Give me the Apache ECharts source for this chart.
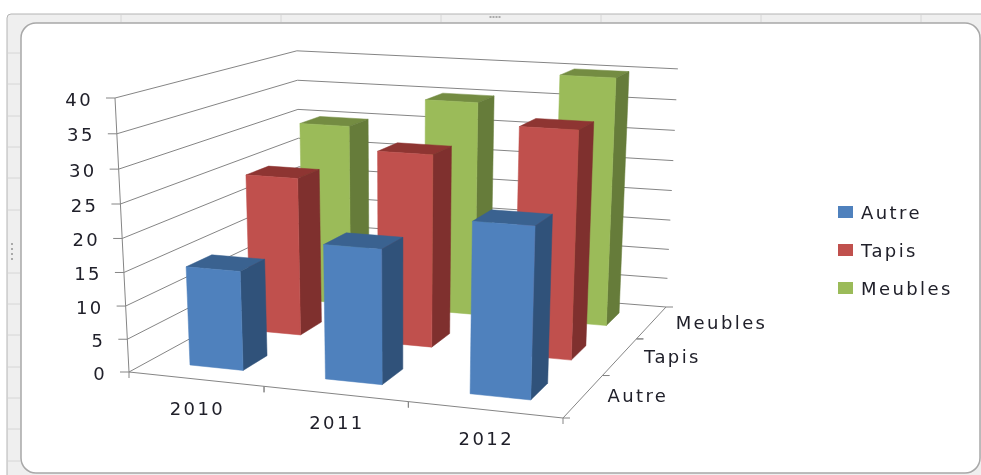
<!DOCTYPE html>
<html><head><meta charset="utf-8">
<style>html,body{margin:0;padding:0;background:#fff}#main{width:981px;height:475px}#main text{letter-spacing:2.4px}#main svg{filter:blur(0.4px)}</style>
<script src="https://cdn.jsdelivr.net/npm/echarts@6/dist/echarts.min.js"></script>
</head><body><div id="main"></div>
<script>
const years = ['2010','2011','2012'];
const depthLabels = ['Autre','Tapis','Meubles'];
const autre = [15,20,25];
const tapis = [25,30,35];
const meubles = [30,35,40];
const yTicks = [0,5,10,15,20,25,30,35,40];
const yMax = 40;

// camera: floor corners and vertical vanishing point of the Excel 3-D view
const FL=[129,372],FR=[563,418],BR=[666,307],BL=[301,278],VP=[399,5660],TOP_FL_Y=98,SHRINK=0.032;
const barFrac=0.4,barShift=0.012;
const cam=(function(){
  const [x0,y0]=FL,[x1,y1]=FR,[x2,y2]=BR,[x3,y3]=BL;
  const dx1=x1-x2,dx2=x3-x2,sx=x0-x1+x2-x3,dy1=y1-y2,dy2=y3-y2,sy=y0-y1+y2-y3;
  const den=dx1*dy2-dx2*dy1,g=(sx*dy2-dx2*sy)/den,h=(dx1*sy-sx*dy1)/den;
  const k=(TOP_FL_Y-y0)/(VP[1]-TOP_FL_Y);
  return {a:x1-x0+g*x1,b:x3-x0+h*x3,c:x0,d:y1-y0+g*y1,e:y3-y0+h*y3,f:y0,g,h,k};
})();
function proj(u,v,t){ // u,v in 0..3, t in 0..1
  const s=u/3,r=v/3,c=cam,tk=t*c.k*(1-SHRINK*s);
  const w=c.g*s+c.h*r+1+tk;
  return [(c.a*s+c.b*r+c.c+tk*VP[0])/w,(c.d*s+c.e*r+c.f+tk*VP[1])/w];
}
function frac(params,api,val){
  const cs=params.coordSys;
  return (cs.y+cs.height-api.coord([0,val])[1])/cs.height;
}
function band(params,api,i){
  const cs=params.coordSys;
  return (api.coord([i,0])[0]-cs.x)/(cs.width/years.length);
}
const FONT='18px "DejaVu Sans"',TXT='#20202a',AX='#858585';
function line(a,b,w){return {type:'line',shape:{x1:a[0],y1:a[1],x2:b[0],y2:b[1]},style:{stroke:AX,lineWidth:w||1,fill:null}};}
function text(s,x,y,al){return {type:'text',style:{text:s,x,y,align:al,verticalAlign:'middle',font:FONT,fill:TXT}};}

function renderWall(params,api){
  const val=api.value(1),t=frac(params,api,val);
  const a=proj(0,0,t),b=proj(0,3,t),c=proj(3,3,t),ch=[line(a,b),line(b,c)];
  ch.push(line([a[0]-9,a[1]],a));
  ch.push(text(String(val),a[0]-22,a[1]+1,'right'));
  if(val===yTicks[yTicks.length-1]) ch.push(line(proj(0,0,0),a));
  return {type:'group',children:ch};
}
function renderFront(params,api){
  const u=band(params,api,api.value(0));
  const p=proj(u,0,0),ch=[text(years[api.value(0)],p[0]+2,p[1]+29,'center')];
  [u-0.5,u+0.5].forEach(q=>{const e=proj(q,0,0);ch.push(line(e,[e[0],e[1]+6]));});
  ch.push(line(proj(u-0.5,0,0),proj(u+0.5,0,0)));
  return {type:'group',children:ch};
}
function renderSide(params,api){
  const v=api.value(0)+0.5;
  const p=proj(3,v,0),ch=[text(depthLabels[api.value(0)],p[0]+24,p[1],'left')];
  [v-0.5,v+0.5].forEach(q=>{const e=proj(3,q,0);ch.push(line(e,[e[0]+7,e[1]]));});
  ch.push(line(proj(3,v-0.5,0),proj(3,v+0.5,0)));
  return {type:'group',children:ch};
}
function poly(pts,col){return {type:'polygon',shape:{points:pts},style:{fill:col,stroke:col,lineWidth:0.5}};}
function barRender(row,front,side,top){
  return function(params,api){
    const uc=band(params,api,api.value(0))+barShift,t=frac(params,api,api.value(1));
    const h=barFrac/2,u0=uc-h,u1=uc+h,v0=row+0.5-h,v1=row+0.5+h;
    const P=(u,v,q)=>proj(u,v,q);
    return {type:'group',children:[
      poly([P(u0,v1,t),P(u1,v1,t),P(u1,v0,t),P(u0,v0,t)],top),
      poly([P(u1,v0,0),P(u1,v1,0),P(u1,v1,t),P(u1,v0,t)],side),
      poly([P(u0,v0,0),P(u1,v0,0),P(u1,v0,t),P(u0,v0,t)],front)
    ]};
  };
}
function barSeries(name,row,vals,front,side,top){
  return {name,type:'custom',coordinateSystem:'cartesian2d',clip:false,silent:true,
    itemStyle:{color:front},encode:{x:0,y:1},
    data:vals.map((v,i)=>[i,v]),renderItem:barRender(row,front,side,top)};
}
function helper(data,fn){
  return {type:'custom',coordinateSystem:'cartesian2d',clip:false,silent:true,encode:{x:0,y:1},data,renderItem:fn};
}
// Excel sheet frame decoration
const frame=[{type:'rect',shape:{x:7,y:14,width:985,height:470,r:4},style:{fill:'#efefef',stroke:'#b4b4b4',lineWidth:1}}];
[121,281,441,601,761,921].forEach(x=>frame.push({type:'line',shape:{x1:x,y1:15,x2:x,y2:22},style:{stroke:'#d6d6d6'}}));
[53,84,116,147,178,210,273,304,335,367,398,429,461].forEach(y=>frame.push({type:'line',shape:{x1:8,y1:y,x2:20,y2:y},style:{stroke:'#d6d6d6'}}));
frame.push({type:'rect',shape:{x:21,y:23,width:959,height:450,r:15},style:{fill:'#fff',stroke:'#a8a8a8',lineWidth:1.5}});
[489,492,495,498].forEach(x=>frame.push({type:'rect',shape:{x:x+0.5,y:16,width:2,height:2},style:{fill:'#aaa'}}));
[243,248,253,258].forEach(y=>frame.push({type:'rect',shape:{x:11,y:y,width:2,height:2},style:{fill:'#aaa'}}));

const chart=echarts.init(document.getElementById('main'),null,{renderer:'svg'});
chart.setOption({
  animation:false,
  graphic:{elements:frame.map(e=>Object.assign({z:-10,silent:true},e))},
  grid:{left:0,right:0,top:0,bottom:0},
  xAxis:{type:'category',data:years,show:false},
  yAxis:{type:'value',min:0,max:yMax,interval:5,show:false},
  legend:{data:['Autre','Tapis','Meubles'],orient:'vertical',left:838,top:203,padding:0,
    icon:'rect',itemWidth:15,itemHeight:12,itemGap:20,
    textStyle:{fontFamily:'DejaVu Sans',fontSize:18,color:TXT,padding:[0,0,0,3]}},
  series:[
    helper(yTicks.map(v=>[0,v]),renderWall),
    helper(years.map((y,i)=>[i,0]),renderFront),
    helper(depthLabels.map((y,i)=>[i,0]),renderSide),
    barSeries('Meubles',2,meubles,'#9BBB59','#667C3A','#748C42'),
    barSeries('Tapis',1,tapis,'#C0504D','#7F302E','#8E3532'),
    barSeries('Autre',0,autre,'#4F81BD','#30527A','#3A6290')
  ]
});
</script></body></html>
